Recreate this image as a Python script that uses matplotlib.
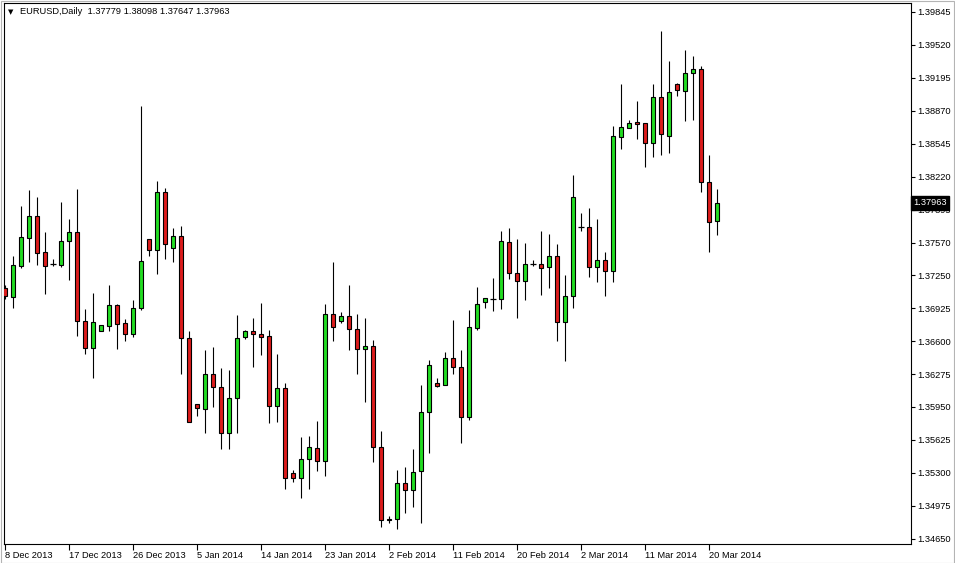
import matplotlib.pyplot as plt
from matplotlib.patches import Rectangle

# EURUSD daily bars, 8 Dec 2013 .. 21 Mar 2014
opens = [1.37123, 1.37035, 1.37340, 1.37616, 1.37833, 1.37478, 1.37360, 1.37350, 1.37587, 1.37675,
         1.36798, 1.36532, 1.36699, 1.36749, 1.36956, 1.36778, 1.36670, 1.36926, 1.37606, 1.37498,
         1.38070, 1.37518, 1.37636, 1.36630, 1.35980, 1.35930, 1.36275, 1.36147, 1.35694, 1.36039,
         1.36640, 1.36699, 1.36670, 1.36650, 1.35960, 1.36137, 1.35299, 1.35250, 1.35437, 1.35546,
         1.35418, 1.36867, 1.36798, 1.36847, 1.36719, 1.36522, 1.36551, 1.35556, 1.34836, 1.34846,
         1.35201, 1.35132, 1.35319, 1.35901, 1.36187, 1.36167, 1.36433, 1.36344, 1.35851, 1.36729,
         1.36985, 1.37015, 1.37015, 1.37577, 1.37271, 1.37192, 1.37360, 1.37360, 1.37330, 1.37439,
         1.36788, 1.37044, 1.37725, 1.37725, 1.37330, 1.37399, 1.37291, 1.38612, 1.38701, 1.38760,
         1.38750, 1.38553, 1.39007, 1.38622, 1.39135, 1.39066, 1.39243, 1.39283, 1.38168, 1.37779]
highs = [1.37153, 1.37439, 1.37932, 1.38090, 1.38021, 1.37675, 1.37409, 1.37971, 1.37804, 1.38099,
         1.36916, 1.37074, 1.36758, 1.37153, 1.36966, 1.36818, 1.37005, 1.38918, 1.37606, 1.38178,
         1.38109, 1.37715, 1.37735, 1.36699, 1.35980, 1.36512, 1.36542, 1.36335, 1.36315, 1.36857,
         1.36709, 1.36828, 1.36975, 1.36709, 1.36473, 1.36187, 1.35329, 1.35654, 1.35664, 1.35812,
         1.36966, 1.37380, 1.36887, 1.37153, 1.36867, 1.36828, 1.36611, 1.35713, 1.34875, 1.35329,
         1.35358, 1.35536, 1.36167, 1.36413, 1.36236, 1.36492, 1.36808, 1.36512, 1.36906, 1.37133,
         1.37025, 1.37222, 1.37685, 1.37715, 1.37606, 1.37567, 1.37399, 1.37685, 1.37656, 1.37557,
         1.37251, 1.38237, 1.37863, 1.37912, 1.37804, 1.37478, 1.38721, 1.39135, 1.38780, 1.38967,
         1.38750, 1.39135, 1.39657, 1.39362, 1.39145, 1.39470, 1.39411, 1.39312, 1.38435, 1.38098]
lows = [1.37015, 1.36926, 1.37321, 1.37380, 1.37350, 1.37064, 1.37340, 1.37330, 1.37202, 1.36650,
        1.36473, 1.36236, 1.36699, 1.36699, 1.36522, 1.36601, 1.36640, 1.36906, 1.37439, 1.37261,
        1.37409, 1.37380, 1.36275, 1.35802, 1.35861, 1.35694, 1.35950, 1.35536, 1.35536, 1.35694,
        1.36620, 1.36344, 1.36463, 1.35792, 1.35802, 1.35141, 1.35210, 1.35053, 1.35141, 1.35319,
        1.35270, 1.36601, 1.36778, 1.36512, 1.36275, 1.35999, 1.35408, 1.34767, 1.34806, 1.34747,
        1.34905, 1.34964, 1.34806, 1.35496, 1.36147, 1.36167, 1.36275, 1.35595, 1.35822, 1.36709,
        1.36926, 1.36897, 1.36916, 1.37212, 1.36828, 1.37005, 1.37340, 1.37054, 1.37123, 1.36601,
        1.36404, 1.36926, 1.37685, 1.37232, 1.37182, 1.37044, 1.37182, 1.38494, 1.38701, 1.38592,
        1.38316, 1.38415, 1.38435, 1.38454, 1.39016, 1.38770, 1.38780, 1.38070, 1.37478, 1.37647]
closes = [1.37044, 1.37350, 1.37626, 1.37833, 1.37468, 1.37340, 1.37355, 1.37587, 1.37675, 1.36798,
          1.36532, 1.36788, 1.36758, 1.36956, 1.36768, 1.36670, 1.36926, 1.37390, 1.37498, 1.38070,
          1.37557, 1.37636, 1.36630, 1.35802, 1.35940, 1.36275, 1.36147, 1.35694, 1.36039, 1.36630,
          1.36699, 1.36670, 1.36640, 1.35960, 1.36137, 1.35250, 1.35250, 1.35437, 1.35556, 1.35418,
          1.36867, 1.36739, 1.36847, 1.36719, 1.36522, 1.36551, 1.35556, 1.34836, 1.34846, 1.35201,
          1.35132, 1.35309, 1.35901, 1.36364, 1.36157, 1.36433, 1.36344, 1.35851, 1.36739, 1.36966,
          1.37025, 1.37020, 1.37587, 1.37271, 1.37192, 1.37360, 1.37365, 1.37321, 1.37439, 1.36788,
          1.37044, 1.38021, 1.37730, 1.37330, 1.37399, 1.37291, 1.38622, 1.38711, 1.38750, 1.38740,
          1.38553, 1.39007, 1.38642, 1.39056, 1.39076, 1.39243, 1.39283, 1.38168, 1.37774, 1.37963]

date_ticks = [0, 8, 16, 24, 32, 40, 48, 56, 64, 72, 80, 88]
date_labels = ['8 Dec 2013', '17 Dec 2013', '26 Dec 2013', '5 Jan 2014', '14 Jan 2014',
               '23 Jan 2014', '2 Feb 2014', '11 Feb 2014', '20 Feb 2014', '2 Mar 2014',
               '11 Mar 2014', '20 Mar 2014']
price_ticks = [1.39845, 1.39520, 1.39195, 1.38870, 1.38545, 1.38220, 1.37895, 1.37570, 1.37250,
               1.36925, 1.36600, 1.36275, 1.35950, 1.35625, 1.35300, 1.34975, 1.34650]

up_col = '#22dd22'
down_col = '#dd1c1c'
font = 'Liberation Sans'

W, H = 955, 563
fig = plt.figure(figsize=(W / 100, H / 100), dpi=100)
fig.patch.set_facecolor('white')
ax = fig.add_axes([3.5 / W, (H - 543.5) / H, 907 / W, 541 / H])

for i in range(len(opens)):
    o, h, l, c = opens[i], highs[i], lows[i], closes[i]
    ax.vlines(i, l, h, color='black', lw=0.8, zorder=2)
    if abs(c - o) < 0.00007:
        ax.hlines(o, i - 0.32, i + 0.32, color='black', lw=0.9, zorder=3)
    else:
        ax.bar(i, abs(c - o), bottom=min(o, c), width=0.6,
               color=up_col if c > o else down_col,
               edgecolor='black', linewidth=0.8, zorder=3)

ax.set_xlim(-0.1875, 113.19)
ax.set_ylim(1.34604, 1.39938)

ax.yaxis.tick_right()
ax.set_yticks(price_ticks)
ax.set_yticklabels(['%.5f' % p for p in price_ticks], fontsize=6.7, family=font)
ax.tick_params(axis='y', length=3, width=0.8, pad=1.5, colors='black')

ax.set_xticks(date_ticks)
ax.set_xticklabels(date_labels, fontsize=6.7, family=font)
for lab in ax.get_xticklabels():
    lab.set_ha('left')
ax.tick_params(axis='x', length=4, width=0.8, pad=1.5)

for s in ax.spines.values():
    s.set_color('black')
    s.set_linewidth(0.8)

# last price tag
ax.annotate('%.5f' % closes[-1], xy=(1, closes[-1]), xycoords=('axes fraction', 'data'),
            xytext=(2.2, 0), textcoords='offset points', va='center', ha='left',
            color='white', fontsize=6.7, family=font, zorder=10, annotation_clip=False,
            bbox=dict(boxstyle='square,pad=0.25', fc='black', ec='black'))

# header
fig.text(8 / W, 1 - 12 / H, '\u25bc', fontsize=5, va='center', family='DejaVu Sans')
fig.text(20 / W, 1 - 12 / H,
         'EURUSD,Daily  %.5f %.5f %.5f %.5f' % (opens[-1], highs[-1], lows[-1], closes[-1]),
         fontsize=6.7, va='center', family=font)

# thin window frame
fig.patches.append(Rectangle((0.5 / W, 0.5 / H), (W - 1.5) / W, (H - 1.5) / H,
                             transform=fig.transFigure, fill=False,
                             edgecolor='#b4b4b4', linewidth=0.8))

fig.savefig('out.png', dpi=100)
